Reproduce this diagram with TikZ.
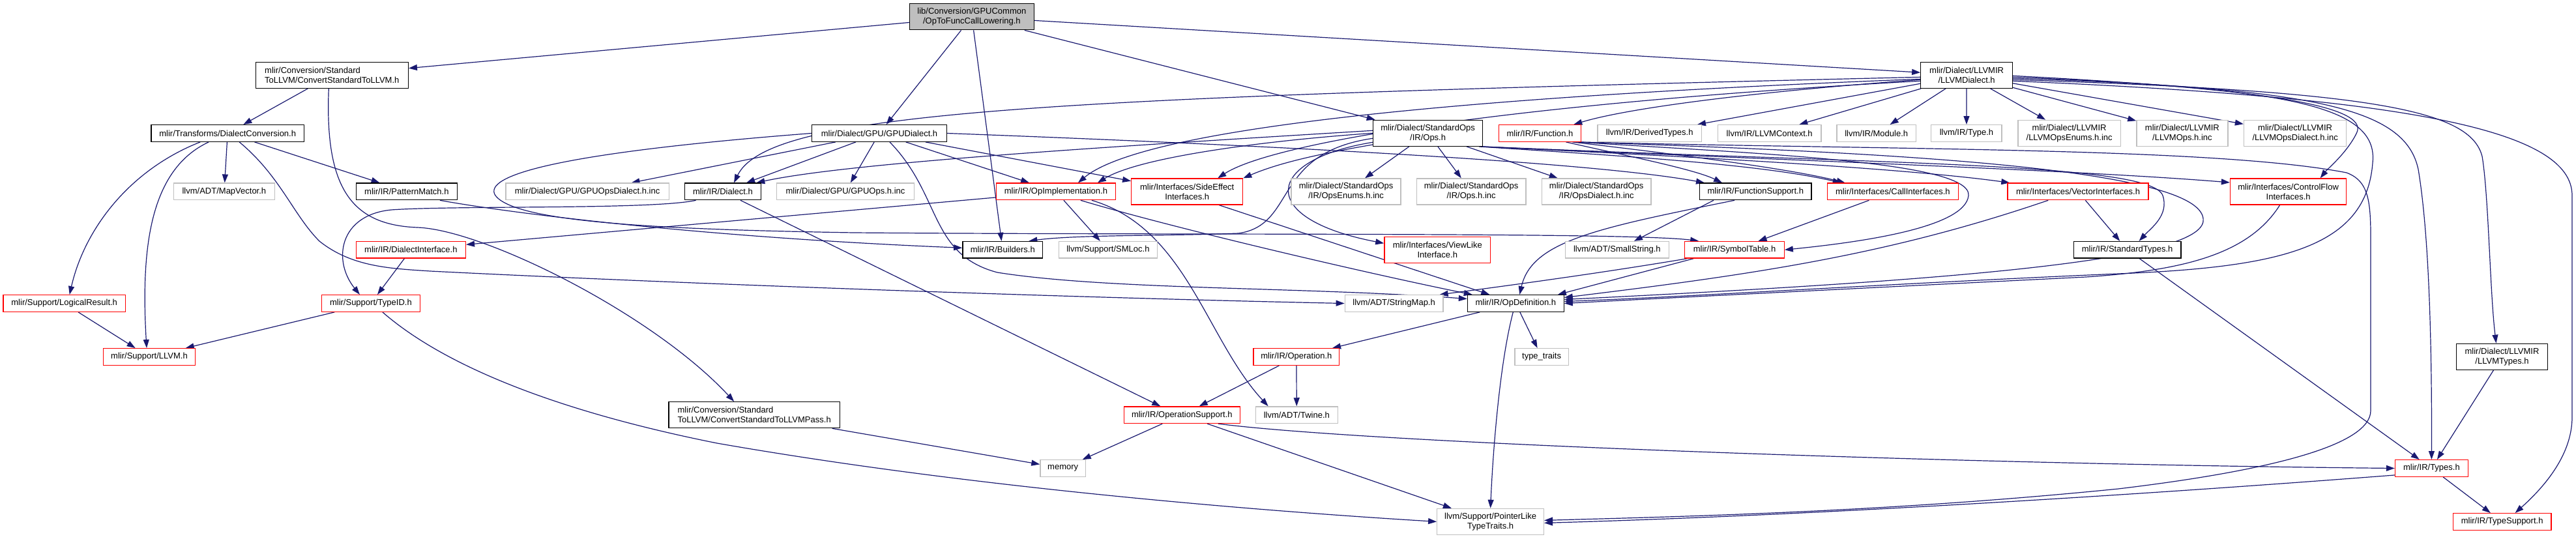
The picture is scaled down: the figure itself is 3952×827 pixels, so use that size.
\documentclass[tikz,border=0pt]{standalone}
\usepackage{fontspec}
\setmainfont{Liberation Sans}
\usetikzlibrary{arrows.meta,calc}
\definecolor{edgeblue}{HTML}{191970}
\definecolor{grey75}{HTML}{BFBFBF}
\pgfdeclarelayer{bg}
\pgfsetlayers{bg,main}
\tikzset{
  nd/.style={draw, rectangle, line width=1.3pt, fill=white, inner sep=0pt,
    font=\fontsize{13pt}{15pt}\selectfont, align=center, minimum height=25.6pt},
  nb/.style={nd, draw=black},
  nr/.style={nd, draw=red},
  ng/.style={nd, draw=grey75},
  nroot/.style={nd, draw=black, fill=grey75},
  two/.style={minimum height=40pt},
  e/.style={draw=edgeblue, line width=1.2pt, -{Triangle[length=13pt,width=9pt]}},
}
\begin{document}
\begin{tikzpicture}[x=1pt,y=-1pt]
\useasboundingbox (0,0) rectangle (3952,827);
% rank 0
\node[nroot, two, minimum width=190.7pt] (root) at (1490.9,25.8) {lib/Conversion/GPUCommon\\/OpToFuncCallLowering.h};
% rank 1
\node[nb, two, align=left, minimum width=234pt] (cstd) at (509.3,115.3) {mlir/Conversion/Standard\\ToLLVM/ConvertStandardToLLVM.h};
\node[nb, two, minimum width=140.6pt] (llvmd) at (3017.1,115.3) {mlir/Dialect/LLVMIR\\/LLVMDialect.h};
% rank 2
\node[nb, minimum width=234.5pt] (dconv) at (349.2,204.5) {mlir/Transforms/DialectConversion.h};
\node[nb, minimum width=206.8pt] (gpud) at (1349,204.5) {mlir/Dialect/GPU/GPUDialect.h};
\node[nb, two, minimum width=167.9pt] (ops) at (2190.6,204.3) {mlir/Dialect/StandardOps\\/IR/Ops.h};
\node[nr, minimum width=126.2pt] (func) at (2362.5,204.5) {mlir/IR/Function.h};
\node[ng, minimum width=159.6pt] (dtypes) at (2530.7,204.5) {llvm/IR/DerivedTypes.h};
\node[ng, minimum width=158.6pt] (llctx) at (2714.7,204.5) {llvm/IR/LLVMContext.h};
\node[ng, minimum width=121.3pt] (module) at (2878.7,204.5) {llvm/IR/Module.h};
\node[ng, minimum width=108.2pt] (type) at (3016.9,204.5) {llvm/IR/Type.h};
\node[ng, two, minimum width=157.4pt] (llenums) at (3174.6,204.3) {mlir/Dialect/LLVMIR\\/LLVMOpsEnums.h.inc};
\node[ng, two, minimum width=140.1pt] (llops) at (3347.9,204.3) {mlir/Dialect/LLVMIR\\/LLVMOps.h.inc};
\node[ng, two, minimum width=157.2pt] (lldial) at (3521.1,204.3) {mlir/Dialect/LLVMIR\\/LLVMOpsDialect.h.inc};
% rank 3
\node[ng, minimum width=154.9pt] (mapvec) at (343.9,293.9) {llvm/ADT/MapVector.h};
\node[nb, minimum width=155pt] (patt) at (623.9,293.9) {mlir/IR/PatternMatch.h};
\node[ng, minimum width=250.4pt] (gpuodi) at (901.1,293.9) {mlir/Dialect/GPU/GPUOpsDialect.h.inc};
\node[nb, minimum width=117.4pt] (dialect) at (1109,293.9) {mlir/IR/Dialect.h};
\node[ng, minimum width=210.6pt] (gpuops) at (1297,293.9) {mlir/Dialect/GPU/GPUOps.h.inc};
\node[nr, minimum width=182.6pt] (opimpl) at (1619.9,293.9) {mlir/IR/OpImplementation.h};
\node[nr, two, minimum width=170.9pt] (sideef) at (1821.2,294) {mlir/Interfaces/SideEffect\\Interfaces.h};
\node[ng, two, minimum width=168pt] (openums) at (2065.1,294) {mlir/Dialect/StandardOps\\/IR/OpsEnums.h.inc};
\node[ng, two, minimum width=167.9pt] (opsinc) at (2257.1,294) {mlir/Dialect/StandardOps\\/IR/Ops.h.inc};
\node[ng, two, minimum width=167.6pt] (opsdial) at (2449.2,294) {mlir/Dialect/StandardOps\\/IR/OpsDialect.h.inc};
\node[nb, minimum width=171.3pt] (funcsup) at (2693.3,293.9) {mlir/IR/FunctionSupport.h};
\node[nr, minimum width=201.2pt] (callif) at (2903.9,293.9) {mlir/Interfaces/CallInterfaces.h};
\node[nr, minimum width=216.2pt] (vecif) at (3188,293.9) {mlir/Interfaces/VectorInterfaces.h};
\node[nr, two, minimum width=178.2pt] (cfif) at (3510.6,294) {mlir/Interfaces/ControlFlow\\Interfaces.h};
% rank 4
\node[nr, minimum width=168pt] (diaif) at (630.4,383.3) {mlir/IR/DialectInterface.h};
\node[nb, minimum width=122.9pt] (builders) at (1538.3,383.3) {mlir/IR/Builders.h};
\node[ng, minimum width=150.7pt] (smloc) at (1699.9,383.3) {llvm/Support/SMLoc.h};
\node[nr, two, minimum width=162.9pt] (viewlike) at (2205.3,383.3) {mlir/Interfaces/ViewLike\\Interface.h};
\node[ng, minimum width=159.1pt] (smallstr) at (2480.8,383.3) {llvm/ADT/SmallString.h};
\node[nr, minimum width=152.4pt] (symtab) at (2661,383.3) {mlir/IR/SymbolTable.h};
\node[nb, minimum width=164.5pt] (stdtypes) at (3263.6,383.3) {mlir/IR/StandardTypes.h};
% rank 5
\node[nr, minimum width=187.4pt] (logres) at (98.7,465.5) {mlir/Support/LogicalResult.h};
\node[nr, minimum width=151.1pt] (typeid) at (568.9,465.5) {mlir/Support/TypeID.h};
\node[ng, minimum width=150.7pt] (strmap) at (2138.6,465.5) {llvm/ADT/StringMap.h};
\node[nb, minimum width=147.7pt] (opdef) at (2325.3,465.5) {mlir/IR/OpDefinition.h};
% rank 6
\node[nr, minimum width=141.4pt] (llvmh) at (229,547.5) {mlir/Support/LLVM.h};
\node[nr, minimum width=131.8pt] (operation) at (1988.9,547.5) {mlir/IR/Operation.h};
\node[ng, minimum width=82.5pt] (ttraits) at (2365.1,547.5) {type\_traits};
\node[nb, two, minimum width=140.2pt] (llvmtypes) at (3838.5,547.3) {mlir/Dialect/LLVMIR\\/LLVMTypes.h};
% rank 7
\node[nb, two, align=left, minimum width=262.6pt] (pass) at (1157.2,636.7) {mlir/Conversion/Standard\\ToLLVM/ConvertStandardToLLVMPass.h};
\node[nr, minimum width=178pt] (opsup) at (1813.3,636.7) {mlir/IR/OperationSupport.h};
\node[ng, minimum width=126pt] (twine) at (1989.3,636.7) {llvm/ADT/Twine.h};
% rank 8
\node[ng, minimum width=69.5pt] (memory) at (1630.7,718.5) {memory};
\node[nr, minimum width=111.9pt] (types) at (3730.4,718.5) {mlir/IR/Types.h};
% rank 9
\node[ng, two, minimum width=163.7pt] (ptrlike) at (2286.6,800.4) {llvm/Support/PointerLike\\TypeTraits.h};
\node[nr, minimum width=150.9pt] (typesup) at (3838.6,800.5) {mlir/IR/TypeSupport.h};

\begin{pgfonlayer}{bg}
% root
\draw[e] (root) -- (cstd);
\draw[e] (root) -- (gpud);
\draw[e] (root) -- (builders);
\draw[e] (root) -- (ops);
\draw[e] (root) -- (llvmd);
% ConvertStandardToLLVM
\draw[e] (cstd) -- (dconv);
\draw[e] ($(cstd.south)+(-5,0)$) .. controls (498,290) and (540,345) .. (640,349) .. controls (740,352) and (1000,480) .. ($(pass.north)+(-31,0)$);
% DialectConversion
\draw[e] ($(dconv.south)+(-42,0)$) .. controls (200,260) and (130,350) .. ($(logres.north)+(8,0)$);
\draw[e] ($(dconv.south)+(-29,0)$) .. controls (230,260) and (216,380) .. ($(llvmh.north)+(-4,0)$);
\draw[e] (dconv) -- (mapvec);
\draw[e] ($(dconv.south)+(18,0)$) .. controls (430,270) and (450,330) .. (490,370) .. controls (540,410) and (600,412) .. (660,416) .. controls (1100,438) and (1700,458) .. (strmap.west);
\draw[e] (dconv) -- (patt);
% PatternMatch
\draw[e] ($(patt.south)+(51,0)$) .. controls (800,330) and (1100,365) .. ($(builders.west)+(0,-3)$);
% GPUDialect
\draw[e] (gpud) -- (gpuodi);
\draw[e] (gpud) -- (dialect);
\draw[e] (gpud) -- (gpuops);
\draw[e] (gpud) -- (opimpl);
\draw[e] (gpud) -- (sideef);
\draw[e] (gpud.east) .. controls (2000,225) and (2450,250) .. ($(funcsup.north west)+(8,0)$);
\draw[e] ($(gpud.south)+(16,0)$) .. controls (1445,300) and (1425,390) .. (1530,418) .. controls (1700,445) and (2000,440) .. ($(opdef.west)+(0,-7)$);
\draw[e] (gpud.west) .. controls (850,235) and (740,270) .. (760,300) .. controls (790,340) and (1000,352) .. (1310,357) .. controls (1800,361) and (2500,356) .. ($(symtab.north west)+(22,0)$);
% Dialect
\draw[e] ($(dialect.south west)+(18,0)$) .. controls (1000,322) and (700,315) .. (600,322) .. controls (520,330) and (510,400) .. ($(typeid.north)+(-17,0)$);
\draw[e] ($(dialect.south)+(27,0)$) -- ($(opsup.north)+(-33,0)$);
% DialectInterface
\draw[e] (diaif) -- (typeid);
% OpImplementation
\draw[e] ($(opimpl.west)+(0,9)$) -- ($(diaif.east)+(0,-8)$);
\draw[e] (opimpl) -- (smloc);
\draw[e] ($(opimpl.south)+(38,0)$) .. controls (1800,350) and (2100,420) .. ($(opdef.north west)+(8,0)$);
\draw[e] ($(opimpl.south)+(55,0)$) .. controls (1820,350) and (1850,520) .. ($(twine.north west)+(20,0)$);
% SideEffect
\draw[e] ($(sideef.south)+(49,0)$) -- ($(opdef.north)+(-40,0)$);
% StandardOps Ops.h
\draw[e] ($(ops.west)+(0,8)$) .. controls (1950,235) and (1990,345) .. (1900,358) .. controls (1800,362) and (1650,360) .. ($(builders.north east)+(-22,0)$);
\draw[e] ($(ops.west)+(0,-4)$) .. controls (1700,225) and (1300,250) .. ($(dialect.north east)+(-8,0)$);
\draw[e] (ops.west) .. controls (1950,215) and (1750,240) .. ($(opimpl.north east)+(-28,0)$);
\draw[e] ($(ops.south west)+(0,-3)$) .. controls (2000,240) and (1950,255) .. (sideef.north east);
\draw[e] ($(ops.west)+(0,14)$) .. controls (1940,245) and (1925,335) .. ($(viewlike.west)+(0,-10)$);
\draw[e] (ops) -- (openums);
\draw[e] (ops) -- (opsinc);
\draw[e] (ops) -- (opsdial);
\draw[e] ($(ops.south east)+(-6,0)$) .. controls (2500,240) and (2700,252) .. ($(callif.north west)+(22,0)$);
\draw[e] ($(ops.south east)+(-4,0)$) .. controls (2700,245) and (2950,262) .. ($(vecif.north west)+(4,0)$);
\draw[e] ($(ops.south east)+(-2,0)$) .. controls (2800,248) and (3200,262) .. ($(cfif.west)+(0,-14)$);
\draw[e] (ops.south east) .. controls (2900,252) and (3300,250) .. (3318,300) .. controls (3328,330) and (3300,350) .. ($(stdtypes.north)+(18,0)$);
% Function
\draw[e] ($(func.south)+(40,0)$) .. controls (2500,240) and (2600,260) .. ($(funcsup.north west)+(35,0)$);
\draw[e] ($(func.south)+(50,0)$) .. controls (2600,240) and (2750,260) .. ($(callif.north west)+(28,0)$);
\draw[e] ($(func.south east)+(-8,0)$) .. controls (2700,236) and (3025,248) .. (3020,300) .. controls (3015,350) and (2850,372) .. (symtab.east);
\draw[e] ($(func.south east)+(-5,0)$) .. controls (2900,234) and (3390,258) .. (3380,340) .. controls (3370,400) and (3000,430) .. ($(opdef.east)+(0,-6)$);
\draw[e] ($(func.south east)+(-2,0)$) .. controls (2900,230) and (3400,226) .. (3600,265) .. controls (3640,280) and (3637,320) .. (3637,400) -- (3637,630) .. controls (3637,680) and (3500,720) .. (3250,750) .. controls (2900,785) and (2600,792) .. ($(ptrlike.east)+(0,-2)$);
% LLVMDialect
\draw[e] ($(llvmd.west)+(0,3)$) .. controls (1600,150) and (1180,170) .. ($(dialect.north)+(17,0)$);
\draw[e] ($(llvmd.west)+(0,6)$) .. controls (2200,150) and (1750,200) .. ($(opimpl.north)+(34,0)$);
\draw[e] ($(llvmd.west)+(0,9)$) .. controls (2300,160) and (1950,220) .. ($(sideef.north)+(47,0)$);
\draw[e] ($(llvmd.west)+(0,7)$) .. controls (2700,140) and (2500,165) .. ($(func.north east)+(-12,0)$);
\draw[e] (llvmd) -- (dtypes);
\draw[e] (llvmd) -- (llctx);
\draw[e] (llvmd) -- (module);
\draw[e] (llvmd) -- (type);
\draw[e] (llvmd) -- (llenums);
\draw[e] (llvmd) -- (llops);
\draw[e] (llvmd) -- (lldial);
\draw[e] ($(llvmd.east)+(0,1)$) .. controls (3450,135) and (3640,160) .. (3615,205) .. controls (3600,235) and (3570,260) .. ($(cfif.north)+(49,0)$);
\draw[e] ($(llvmd.east)+(0,3)$) .. controls (3500,135) and (3650,160) .. (3640,250) .. controls (3630,380) and (3500,410) .. (3250,420) .. controls (2900,435) and (2600,455) .. ($(opdef.east)+(0,-3)$);
\draw[e] ($(llvmd.east)+(0,5)$) .. controls (3550,135) and (3690,165) .. (3710,260) .. controls (3725,350) and (3731,500) .. (types.north);
\draw[e] ($(llvmd.east)+(0,7)$) .. controls (3650,140) and (3790,170) .. (3808,240) .. controls (3818,300) and (3820,450) .. ($(llvmtypes.north)+(-9,0)$);
\draw[e] ($(llvmd.east)+(0,9)$) .. controls (3700,150) and (3946,200) .. (3946,300) -- (3946,640) .. controls (3946,700) and (3900,750) .. ($(typesup.north)+(20,0)$);
% FunctionSupport
\draw[e] ($(funcsup.south west)+(22,0)$) -- (smallstr);
\draw[e] ($(funcsup.south west)+(54,0)$) .. controls (2450,350) and (2350,370) .. ($(opdef.north)+(6,0)$);
% SymbolTable
\draw[e] ($(symtab.south west)+(14,0)$) -- ($(opdef.north east)+(-10,0)$);
\draw[e] ($(symtab.south west)+(4,0)$) .. controls (2450,420) and (2300,440) .. ($(strmap.north east)+(-6,0)$);
% CallInterfaces
\draw[e] (callif) -- (symtab);
% VectorInterfaces
\draw[e] (vecif) -- (stdtypes);
\draw[e] ($(vecif.south west)+(63,0)$) .. controls (2900,390) and (2700,420) .. ($(opdef.east)+(0,-9)$);
% ControlFlowInterfaces
\draw[e] ($(cfif.south)+(-13,0)$) .. controls (3450,390) and (3350,415) .. (3200,425) .. controls (2900,440) and (2600,455) .. (opdef.east);
% StandardTypes
\draw[e] (stdtypes) -- (types);
% OpDefinition
\draw[e] (opdef) -- (operation);
\draw[e] (opdef) -- (ttraits);
\draw[e] ($(opdef.south)+(-4,0)$) .. controls (2300,560) and (2290,700) .. (ptrlike.north);
% Operation
\draw[e] (operation) -- (opsup);
\draw[e] (operation) -- (twine);
% OperationSupport
\draw[e] (opsup) -- (memory);
\draw[e] ($(opsup.south east)+(-34,0)$) .. controls (2100,680) and (3000,712) .. (types.west);
\draw[e] (opsup) -- (ptrlike);
% TypeID
\draw[e] (typeid) -- (llvmh);
\draw[e] ($(typeid.south)+(18,0)$) .. controls (680,560) and (850,630) .. (1100,680) .. controls (1500,750) and (1950,785) .. (ptrlike.west);
% LogicalResult
\draw[e] (logres) -- (llvmh);
% Pass
\draw[e] (pass) -- (memory);
% Types
\draw[e] (types) -- (typesup);
\draw[e] ($(types.south west)+(0,-3)$) .. controls (3300,758) and (2800,790) .. ($(ptrlike.east)+(0,2)$);
% LLVMTypes
\draw[e] (llvmtypes) -- (types);
\end{pgfonlayer}
\end{tikzpicture}
\end{document}
